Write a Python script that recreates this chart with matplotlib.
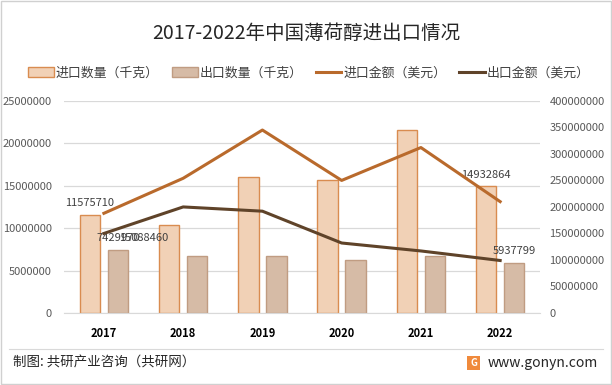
import numpy as np
import matplotlib
matplotlib.use('Agg')
import matplotlib.pyplot as plt
from matplotlib.patches import Patch, Rectangle
from matplotlib.lines import Line2D

plt.rcParams['font.family'] = ['Noto Sans CJK SC', 'DejaVu Sans']

# ── 数据 ──────────────────────────────────────────────────────────────────────
years        = ['2017', '2018', '2019', '2020', '2021', '2022']
import_qty   = [11575710, 10370000, 16040000, 15680000, 21600000, 14932864]   # 千克
export_qty   = [7429970, 6700000, 6700000, 6230000, 6700000, 5937799]         # 千克
import_value = [188e6, 254e6, 345e6, 250e6, 312e6, 210e6]                     # 美元
export_value = [150e6, 200e6, 192e6, 132e6, 117e6, 99e6]                      # 美元

C_IMP_BAR  = '#F1D1B6'
C_IMP_EDGE = '#D98C50'
C_EXP_BAR  = '#D6BBA6'
C_EXP_EDGE = '#C09C82'
C_IMP_LINE = '#B96A2C'
C_EXP_LINE = '#5F4329'
C_TICK     = '#595959'

fig = plt.figure(figsize=(6.12, 3.85), dpi=100)
ax = fig.add_axes([0.105, 0.187, 0.777, 0.551])
ax2 = ax.twinx()

x = np.arange(len(years))
w = 0.26
off = 0.177

ax.bar(x - off, import_qty, w, color=C_IMP_BAR, edgecolor=C_IMP_EDGE, linewidth=1, zorder=2)
ax.bar(x + off, export_qty, w, color=C_EXP_BAR, edgecolor=C_EXP_EDGE, linewidth=1, zorder=2)

ax2.plot(x, import_value, color=C_IMP_LINE, linewidth=2.2, zorder=3)
ax2.plot(x, export_value, color=C_EXP_LINE, linewidth=2.2, zorder=3)

ax.set_xlim(-0.5, len(years) - 0.5)
ax.set_ylim(0, 25000000)
ax.set_yticks(np.arange(0, 25000001, 5000000))
ax.set_yticklabels([f'{int(v)}' for v in np.arange(0, 25000001, 5000000)])
ax2.set_ylim(0, 400000000)
ax2.set_yticks(np.arange(0, 400000001, 50000000))
ax2.set_yticklabels([f'{int(v)}' for v in np.arange(0, 400000001, 50000000)])

ax.set_xticks(x)
ax.set_xticklabels(years, fontsize=8, fontweight='bold', color='black')
ax.tick_params(axis='x', length=0, pad=10)
ax.tick_params(axis='y', length=0, labelsize=8, labelcolor=C_TICK, pad=9)
ax2.tick_params(axis='y', length=0, labelsize=8, labelcolor=C_TICK, pad=7)

ax.grid(axis='y', color='#D9D9D9', linewidth=0.9, zorder=0)
ax.set_axisbelow(True)
for a in (ax, ax2):
    for s in a.spines.values():
        s.set_visible(False)
ax.spines['bottom'].set_visible(True)
ax.spines['bottom'].set_color('#D9D9D9')

# 数据标签
lab_kw = dict(fontsize=8, color='#404040', ha='center', va='bottom')
ax.text(x[0] - off, import_qty[0] + 800000, f'{import_qty[0]}', **lab_kw)
ax.text(x[0] + off, export_qty[0] + 800000, f'{export_qty[0]}', **lab_kw)
ax.text(x[0] + off + 0.33, export_qty[0] + 800000, '15088460', **lab_kw)
ax.text(x[-1] - off, import_qty[-1] + 800000, f'{import_qty[-1]}', **lab_kw)
ax.text(x[-1] + off, export_qty[-1] + 800000, f'{export_qty[-1]}', **lab_kw)

# 标题与图例
fig.text(0.5, 0.913, '2017-2022年中国薄荷醇进出口情况', ha='center', va='center',
         fontsize=14, color='#262626')
handles = [
    Patch(facecolor=C_IMP_BAR, edgecolor=C_IMP_EDGE, label='进口数量（千克）'),
    Patch(facecolor=C_EXP_BAR, edgecolor=C_EXP_EDGE, label='出口数量（千克）'),
    Line2D([], [], color=C_IMP_LINE, linewidth=2.2, label='进口金额（美元）'),
    Line2D([], [], color=C_EXP_LINE, linewidth=2.2, label='出口金额（美元）'),
]
fig.legend(handles=handles, loc='center', bbox_to_anchor=(0.505, 0.81), ncol=4,
           frameon=False, fontsize=9.3, handlelength=2.0, handleheight=0.75,
           handletextpad=0.15, columnspacing=1.0, labelcolor='#404040')

# 底部说明
fig.add_artist(Line2D([0.015, 0.985], [0.094, 0.094], color='#D9D9D9', linewidth=0.8))
fig.text(0.022, 0.058, '制图: 共研产业咨询（共研网）', ha='left', va='center',
         fontsize=9.7, color='#262626')
fig.add_artist(Rectangle((0.763, 0.040), 0.022, 0.036, transform=fig.transFigure,
                         facecolor='#F08A3C', edgecolor='none'))
fig.text(0.774, 0.058, 'G', ha='center', va='center', fontsize=7, color='white',
         fontweight='bold')
fig.text(0.797, 0.058, 'www.gonyn.com', ha='left', va='center', fontsize=10,
         color='#262626')

# 外边框
fig.add_artist(Rectangle((0.002, 0.003), 0.996, 0.994, transform=fig.transFigure,
                         fill=False, edgecolor='#D0D0D0', linewidth=1))

fig.savefig('out.png', dpi=100)
